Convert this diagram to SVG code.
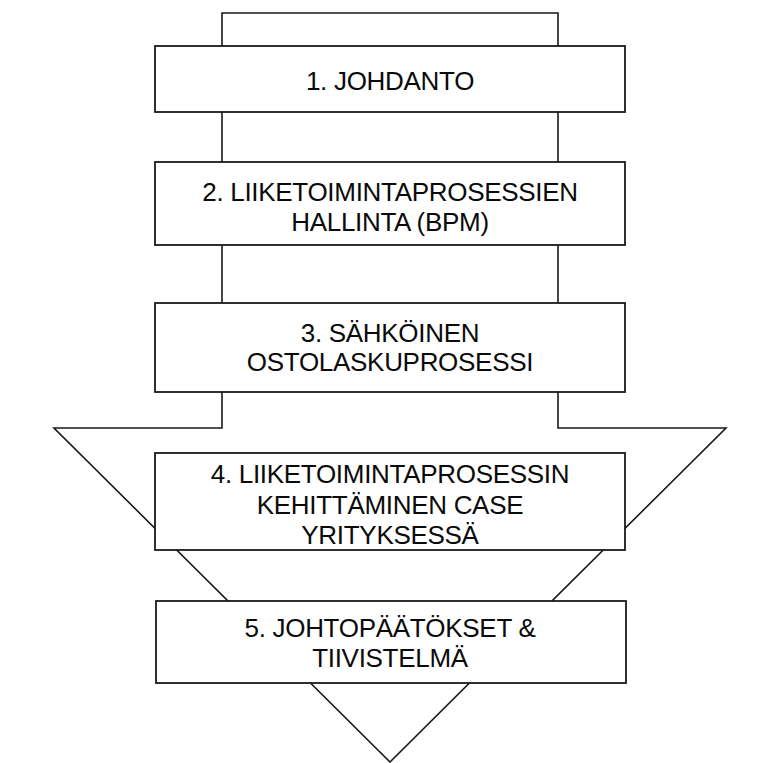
<svg xmlns="http://www.w3.org/2000/svg" width="767" height="763" viewBox="0 0 767 763">
  <style>
    .outline { fill: #ffffff; stroke: #1a1a1a; stroke-width: 1.6; stroke-linejoin: miter; }
    .box { fill: #ffffff; stroke: #1a1a1a; stroke-width: 1.8; }
    .label { font-family: "Liberation Sans", Arial, Helvetica, sans-serif; font-size: 26px; letter-spacing: -0.3px; fill: #0a0a0a; text-anchor: middle; }
  </style>
  <rect x="0" y="0" width="767" height="763" fill="#ffffff"/>

  <!-- Arrow outline: shaft widening into the arrowhead -->
  <g id="connectors">
    <polygon class="outline" points="222,13 558,13 558,428 726,428 390,762 54,428 222,428"/>
  </g>

  <g id="node1">
    <rect class="box" x="155" y="46" width="470" height="66"/>
    <text class="label" x="390" y="90">1. JOHDANTO</text>
  </g>

  <g id="node2">
    <rect class="box" x="155" y="162" width="470" height="83"/>
    <text class="label" x="390" y="201">2. LIIKETOIMINTAPROSESSIEN</text>
    <text class="label" x="390" y="231">HALLINTA (BPM)</text>
  </g>

  <g id="node3">
    <rect class="box" x="155" y="303" width="470" height="89"/>
    <text class="label" x="390" y="342">3. SÄHKÖINEN</text>
    <text class="label" x="390" y="371">OSTOLASKUPROSESSI</text>
  </g>

  <g id="node4">
    <rect class="box" x="155" y="453" width="470" height="97"/>
    <text class="label" x="390" y="483">4. LIIKETOIMINTAPROSESSIN</text>
    <text class="label" x="390" y="514">KEHITTÄMINEN CASE</text>
    <text class="label" x="390" y="544">YRITYKSESSÄ</text>
  </g>

  <g id="node5">
    <rect class="box" x="156" y="601" width="470" height="82"/>
    <text class="label" x="390" y="637">5. JOHTOPÄÄTÖKSET &amp;</text>
    <text class="label" x="390" y="667">TIIVISTELMÄ</text>
  </g>
</svg>
